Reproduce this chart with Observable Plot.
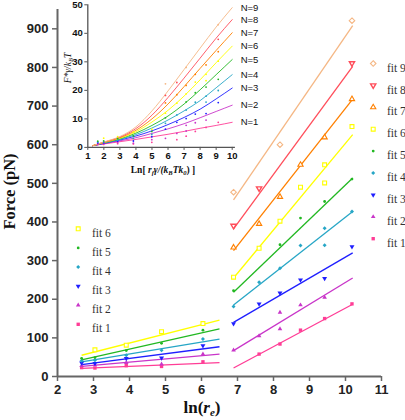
<!DOCTYPE html>
<html><head><meta charset="utf-8">
<script src="https://cdn.jsdelivr.net/npm/d3@7"></script>
<script src="https://cdn.jsdelivr.net/npm/@observablehq/plot@0.6"></script>
<style>
body{margin:0;background:#fff;}
#wrap{position:relative;width:405px;height:420px;}
#wrap svg{position:absolute;left:0;top:0;overflow:visible;}
</style></head><body><div id="wrap"></div>
<script>
// ---------- data ----------
const fitNames = ["fit 1","fit 2","fit 3","fit 4","fit 5","fit 6","fit 7","fit 8","fit 9"];
const nLabels = ["N=1","N=2","N=3","N=4","N=5","N=6","N=7","N=8","N=9"];
const fitColors = ["#ff3d96","#c935c9","#1f1fff","#26a6c6","#22b822","#ffff00","#ff8000","#ff4d5a","#f5b784"];

const fit1Pts = [[2.67,23],[3.04,22],[3.91,28],[4.89,26],[6.04,38],[7.6,58],[8.18,84],[8.75,120],[9.42,150],[10.18,188]];
const fit2Pts = [[2.67,28],[3.04,30],[3.91,36],[4.89,32],[6.04,58],[6.89,68],[7.6,105],[8.18,166],[8.18,123],[8.75,185],[9.42,205]];
const fit3Pts = [[2.67,35],[3.04,34],[3.91,47],[4.89,48],[6.04,80],[6.89,137],[7.6,188],[8.18,216],[8.75,250],[9.42,254],[10.18,336]];
const fit4Pts = [[2.67,41],[3.04,42],[3.91,55],[4.89,68],[6.04,97],[6.89,181],[7.6,244],[8.18,280],[8.75,339],[9.42,384],[9.42,340],[10.18,427]];
const fit5Pts = [[2.67,47],[3.04,49],[3.91,67],[4.89,86],[6.04,120],[6.89,222],[8.18,341],[8.75,410],[9.42,453],[10.18,511]];
const fit6Pts = [[3.04,69],[3.91,81],[4.89,116],[6.04,137],[6.89,257],[7.6,332],[8.18,402],[8.75,490],[9.42,548],[9.42,501],[10.18,647]];
const fit7Pts = [[6.89,334],[7.6,395],[8.18,465],[8.75,548],[9.42,619],[10.18,718]];
const fit8Pts = [[6.89,390],[7.6,487],[10.18,811]];
const fit9Pts = [[6.89,477],[8.18,600],[10.18,921]];

const leftFitX = [2.67, 6.5];
const rightFitX = [6.89, 10.2];
const leftFitY1 = [21, 26, 31, 38, 43, 55];
const leftFitY2 = [36, 58, 77, 97, 123, 146];
const rightFitY1 = [22, 67, 140, 185, 218, 255, 326, 382, 457];
const rightFitY2 = [187, 255, 320, 427, 514, 626, 718, 803, 908];

const insetCurveX = [1.3, 2, 3, 4, 5, 6, 7, 8, 9, 10];
const insetN1 = [0.6, 1.2, 2.0, 2.8, 3.7, 4.6, 5.6, 6.7, 7.7, 8.8];
const insetN2 = [0.6, 1.3, 2.3, 3.4, 4.9, 6.5, 8.3, 10.4, 12.6, 14.8];
const insetN3 = [0.6, 1.4, 2.6, 4.0, 5.8, 8.0, 10.5, 13.4, 17.0, 20.8];
const insetN4 = [0.6, 1.5, 2.8, 4.5, 6.8, 9.6, 12.8, 16.4, 20.9, 25.5];
const insetN5 = [0.6, 1.6, 3.0, 5.0, 7.7, 11.0, 15.2, 20.2, 25.5, 30.8];
const insetN6 = [0.6, 1.7, 3.2, 5.5, 8.9, 13.0, 18.0, 23.7, 29.7, 35.5];
const insetN7 = [0.6, 1.8, 3.4, 6.0, 10.0, 15.2, 21.3, 27.7, 34.0, 40.2];
const insetN8 = [0.6, 1.8, 3.6, 6.6, 11.3, 17.5, 24.3, 31.3, 38.3, 44.8];
const insetN9 = [0.6, 1.9, 3.8, 7.2, 12.8, 19.8, 27.3, 34.8, 42.2, 49.0];
// inset dots = same measurements on the rescaled axes
const insetXShift = 1.05;
const insetYScale = 21.4;

const xTicks = [2,3,4,5,6,7,8,9,10,11];
const yTicks = [0,100,200,300,400,500,600,700,800,900];
const insetXTicks = [1,2,3,4,5,6,7,8,9,10];
const insetYTicks = [0,10,20,30,40,50];

// ---------- styles ----------
const serif = "'Liberation Serif','Times New Roman',serif";
const sans = "'Liberation Sans',Arial,sans-serif";
const triDown = {draw(ctx, size){
  const s3 = Math.sqrt(3);
  const y = -Math.sqrt(size / (s3 * 3));
  ctx.moveTo(0, -y * 2);
  ctx.lineTo(-s3 * y, y);
  ctx.lineTo(s3 * y, y);
  ctx.closePath();
}};
const rhombus = {draw(ctx, size){
  const h = Math.sqrt(size) * 0.62625;
  ctx.moveTo(0, -h);
  ctx.lineTo(h, 0);
  ctx.lineTo(0, h);
  ctx.lineTo(-h, 0);
  ctx.closePath();
}};
const symSpec = [
  {symbol:"square", r:1.9, filled:true},
  {symbol:"triangle", r:1.7, filled:true},
  {symbol:triDown, r:1.85, filled:true},
  {symbol:rhombus, r:1.8, filled:true},
  {symbol:"circle", r:1.4, filled:true},
  {symbol:"square", r:2.2, filled:false, sw:1.1},
  {symbol:"triangle", r:1.95, filled:false, sw:1.1},
  {symbol:triDown, r:1.95, filled:false, sw:1.4},
  {symbol:rhombus, r:2.5, filled:false, sw:1.1}
];
function dotStyle(i){
  const s = symSpec[i];
  return s.filled
    ? {symbol: s.symbol, r: s.r, fill: fitColors[i], stroke: "none"}
    : {symbol: s.symbol, r: s.r, fill: "white", stroke: fitColors[i], strokeWidth: s.sw};
}

// ---------- main ----------
const fits = [fit1Pts,fit2Pts,fit3Pts,fit4Pts,fit5Pts,fit6Pts,fit7Pts,fit8Pts,fit9Pts];
const pts = fits.flatMap((arr, i) => arr.map(([x, y]) => ({i, x, y})));
const segs = [];
for (let i = 0; i < 9; i++) {
  if (i < 6) segs.push({i, x1: leftFitX[0], x2: leftFitX[1], y1: leftFitY1[i], y2: leftFitY2[i]});
  segs.push({i, x1: rightFitX[0], x2: rightFitX[1], y1: rightFitY1[i], y2: rightFitY2[i]});
}

const marks = [];
for (let i = 0; i < 9; i++) {
  marks.push(Plot.link(segs.filter(s => s.i === i), {x1:"x1", y1:"y1", x2:"x2", y2:"y2", stroke: fitColors[i], strokeWidth: 1.3}));
}
for (let i = 0; i < 9; i++) {
  marks.push(Plot.dot(pts.filter(p => p.i === i), {x:"x", y:"y", ...dotStyle(i)}));
}
marks.push(Plot.ruleX([2], {y1: 0, y2: 950, stroke: "#666", strokeWidth: 2}));
marks.push(Plot.ruleY([0], {x1: 2, x2: 11, stroke: "#666", strokeWidth: 2}));
marks.push(Plot.axisX({ticks: xTicks, tickSize: 5, tickPadding: 3, stroke: "#666", strokeWidth: 1.5, fill: "#222", fontWeight: "bold", fontSize: 13, label: null, tickFormat: d => String(d)}));
marks.push(Plot.axisY({ticks: yTicks, tickSize: 5, tickPadding: 4, stroke: "#666", strokeWidth: 1.5, fill: "#222", fontWeight: "bold", fontSize: 13, label: null, tickFormat: d => String(d)}));

// legends
[8,7,6,5,4,3,2,1,0].forEach((fi, row) => {
  const dy = 54 + row * 21.9;
  marks.push(Plot.dot([0], {frameAnchor: "top-right", dx: -8.3, dy, ...dotStyle(fi)}));
  marks.push(Plot.text([fitNames[fi]], {frameAnchor: "top-right", dx: 5.5, dy, text: d => d, textAnchor: "start", fontFamily: serif, fontSize: 11.5, fill: "#333"}));
});
[5,4,3,2,1,0].forEach((fi, row) => {
  const dy = 219.3 + row * 19.1;
  marks.push(Plot.dot([0], {frameAnchor: "top-left", dx: 20.7, dy, ...dotStyle(fi)}));
  marks.push(Plot.text([fitNames[fi]], {frameAnchor: "top-left", dx: 34.5, dy, text: d => d, textAnchor: "start", fontFamily: serif, fontSize: 11.5, fill: "#333"}));
});

const main = Plot.plot({
  width: 405, height: 420,
  marginTop: 9, marginRight: 24, marginBottom: 44, marginLeft: 57,
  x: {domain: [2, 11]},
  y: {domain: [0, 950]},
  style: {fontFamily: sans, fontSize: "13px", background: "transparent", overflow: "visible"},
  marks
});
const ms = d3.select(main);
ms.append("text")
  .attr("transform", "translate(15,191.5) rotate(-90)")
  .attr("text-anchor", "middle")
  .attr("font-family", serif).attr("font-weight", "bold").attr("font-size", 16.5).attr("fill", "#111")
  .text("Force (pN)");
const xl = ms.append("text").attr("x", 202).attr("y", 413)
  .attr("font-family", serif).attr("font-weight", "bold").attr("font-size", 17).attr("fill", "#111");
xl.append("tspan").text("ln(");
xl.append("tspan").attr("font-style", "italic").text("r");
xl.append("tspan").attr("font-style", "italic").attr("font-size", 11).attr("dy", 3).text("e");
xl.append("tspan").attr("dy", -3).text(")");

// ---------- inset ----------
const insetCurves = [insetN1,insetN2,insetN3,insetN4,insetN5,insetN6,insetN7,insetN8,insetN9];
const insetPts = fits.flatMap((arr, i) => arr.map(([x, y]) => ({i, x: x - insetXShift, y: y / insetYScale})));
const imarks = [];
insetCurves.forEach((ys, i) => {
  imarks.push(Plot.line(insetCurveX.map((x, k) => ({x, y: ys[k]})), {x: "x", y: "y", stroke: fitColors[i], strokeWidth: 0.9, curve: "monotone-x"}));
});
for (let i = 0; i < 9; i++) {
  imarks.push(Plot.dot(insetPts.filter(p => p.i === i), {x: "x", y: "y", r: 0.9, fill: fitColors[i]}));
}
imarks.push(Plot.ruleX([1], {y1: 0, y2: 50, stroke: "#555", strokeWidth: 1.3}));
imarks.push(Plot.ruleY([0], {x1: 1, x2: 10.2, stroke: "#555", strokeWidth: 1.3}));
imarks.push(Plot.axisX({ticks: insetXTicks, tickSize: 3, tickPadding: 2, stroke: "#555", fill: "#111", fontWeight: "bold", fontSize: 9.5, label: null, tickFormat: d => String(d)}));
imarks.push(Plot.axisY({ticks: insetYTicks, tickSize: 3, tickPadding: 2, stroke: "#555", fill: "#111", fontWeight: "bold", fontSize: 9.5, label: null, tickFormat: d => String(d)}));
imarks.push(Plot.text(nLabels, {frameAnchor: "right", y: (d, k) => insetCurves[k][insetCurves[k].length - 1], dx: 8.5, text: d => d, textAnchor: "start", fontFamily: sans, fontSize: 9.5, fill: "#111"}));

const inset = Plot.plot({
  width: 260, height: 180,
  marginLeft: 87.3, marginRight: 28.3, marginTop: 4.3, marginBottom: 33.1,
  x: {domain: [1, 10]},
  y: {domain: [0, 50]},
  style: {fontFamily: sans, fontSize: "9.5px", background: "transparent", overflow: "visible"},
  marks: imarks
});
const is = d3.select(inset);
const ixl = is.append("text").attr("x", 163).attr("y", 173).attr("text-anchor", "middle")
  .attr("font-family", serif).attr("font-weight", "bold").attr("font-size", 9.5).attr("fill", "#111");
ixl.append("tspan").text("Ln[ ");
ixl.append("tspan").attr("font-style", "italic").text("r");
ixl.append("tspan").attr("font-style", "italic").attr("font-size", 6.5).attr("dy", 2).text("f");
ixl.append("tspan").attr("font-style", "italic").attr("dy", -2).text("γ/(");
ixl.append("tspan").attr("font-style", "italic").text("k");
ixl.append("tspan").attr("font-style", "italic").attr("font-size", 6.5).attr("dy", 2).text("B");
ixl.append("tspan").attr("font-style", "italic").attr("dy", -2).text("Tk");
ixl.append("tspan").attr("font-style", "italic").attr("font-size", 6.5).attr("dy", 2).text("0");
ixl.append("tspan").attr("dy", -2).text(") ]");
const iyl = is.append("text").attr("transform", "translate(70.5,68) rotate(-90)").attr("text-anchor", "middle")
  .attr("font-family", serif).attr("font-size", 9.5).attr("font-style", "italic").attr("fill", "#111");
iyl.append("tspan").text("F*γ/k");
iyl.append("tspan").attr("font-size", 6.5).attr("dy", 2).text("B");
iyl.append("tspan").attr("dy", -2).text("T");

const wrap = document.getElementById("wrap");
wrap.appendChild(main);
wrap.appendChild(inset);
</script></body></html>
